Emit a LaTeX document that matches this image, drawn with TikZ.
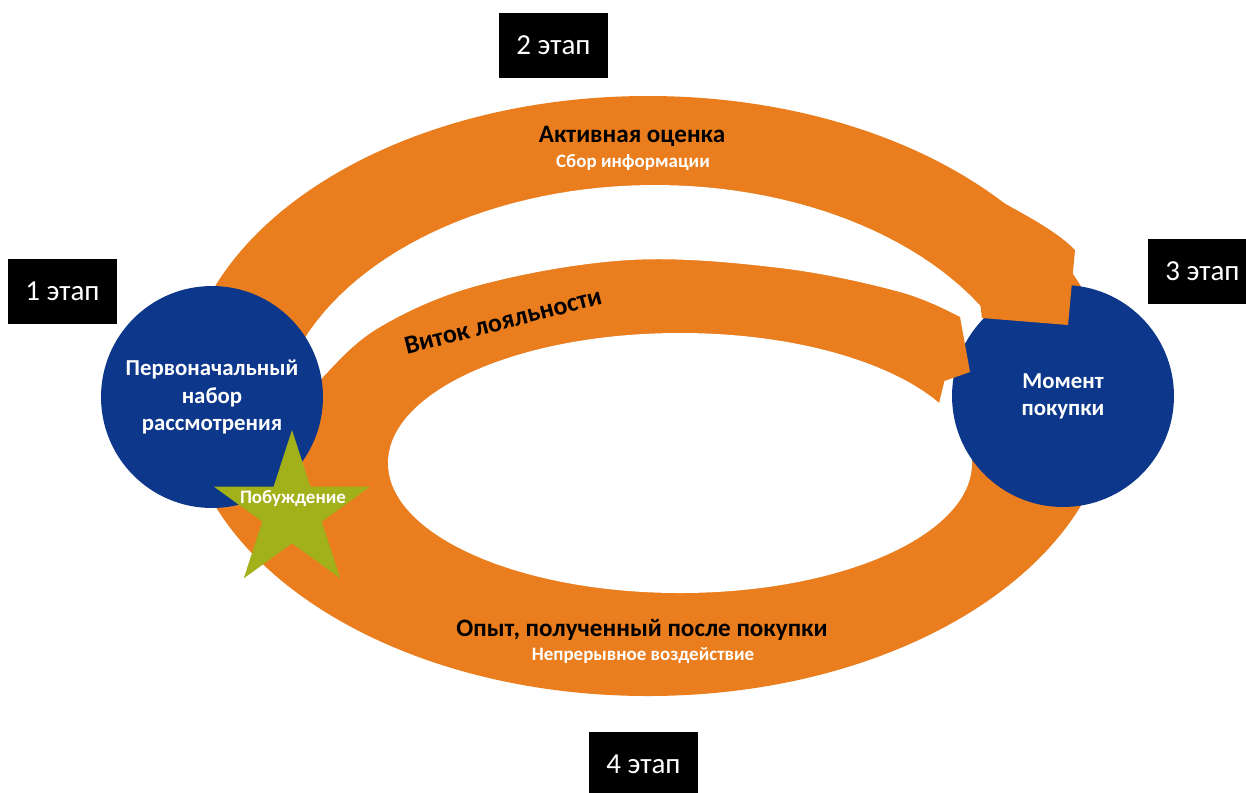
\documentclass[tikz,border=0pt]{standalone}
\usepackage{fontspec}
\setmainfont{Carlito}
\usetikzlibrary{calc}
\definecolor{ringorange}{RGB}{234,125,30}
\definecolor{circleblue}{RGB}{12,55,138}
\definecolor{stargreen}{RGB}{162,176,26}

\begin{document}
\begin{tikzpicture}[x=0.02cm, y=-0.02cm,
    stage/.style={fill=black, text=white, minimum width=2.18cm, minimum height=1.3cm, inner sep=0pt, font=\fontsize{16.5}{19}\selectfont},
    phase/.style={circle, fill=circleblue, text=white, minimum size=4.44cm, inner sep=0pt, align=center, font=\bfseries\fontsize{13}{15.4}\selectfont},
    title/.style={text=black, inner sep=0pt, font=\bfseries\fontsize{14.3}{17}\selectfont},
    subtitle/.style={text=white, inner sep=0pt, font=\bfseries\fontsize{10.8}{13}\selectfont}]
        % рамка картинки
        \clip (0,0) rectangle (1246,792);
        \fill[white] (0,0) rectangle (1246,792);
        % внешнее кольцо
        \fill[ringorange] (648,396) ellipse [x radius=465, y radius=300];
        % белый серп между верхней дугой и витком лояльности
        \fill[white] plot[domain=160:25, samples=60, variable=\t] ({655+380*cos(\t)}, {435-250*sin(\t)})
            -- (1010,420) -- (935,420) -- (960,317)
            -- plot[smooth, tension=0.6] coordinates {(960,317) (900,292) (780,268) (630,260) (480,285) (380,327) (323,377) (290,420)}
            -- cycle;
        % внутренний белый овал
        \fill[white] (680,463) ellipse [x radius=292, y radius=130];
        % подписи на кольце
        \node[title] (evaluation) at (632,136) {Активная оценка};
        \node[subtitle] (search) at (633,162) {Сбор информации};
        \node[title] (experience) at (642,630) {Опыт, полученный после покупки};
        \node[subtitle] (impact) at (643,656) {Непрерывное воздействие};
        \node[title, rotate=14.5, font=\bfseries\fontsize{14.8}{17}\selectfont] (loyalty) at (503,321) {Виток лояльности};
        % круги
        \node[phase] (initial) at (212,397) {Первоначальный\\набор\\рассмотрения};
        \node[phase] (purchase) at (1063,396) {Момент\\покупки};
        % наконечники стрелок (поверх круга)
        \fill[ringorange] (965,181) .. controls (1010,208) and (1050,225) .. (1075,250) -- (1068,325) -- (982,318) -- cycle;
        \fill[ringorange] (890,291) -- (960,317) -- (970,372) -- (927,387) -- (890,368) -- cycle;
        % звезда
        \fill[stargreen] (292,430) -- (310.4,486.7) -- (370,486.7) -- (321.8,521.7) -- (340.2,578.3)
            -- (292,543.3) -- (243.8,578.3) -- (262.2,521.7) -- (214,486.7) -- (273.6,486.7) -- cycle;
        \node[subtitle] (trigger) at (293,498) {Побуждение};
        % этапы
        \node[stage] (stage1) at (62.5,291) {1 этап};
        \node[stage] (stage2) at (553.5,45.5) {2 этап};
        \node[stage] (stage3) at (1202.5,271.5) {3 этап};
        \node[stage] (stage4) at (643.5,764.5) {4 этап};
    \end{tikzpicture}
\end{document}
